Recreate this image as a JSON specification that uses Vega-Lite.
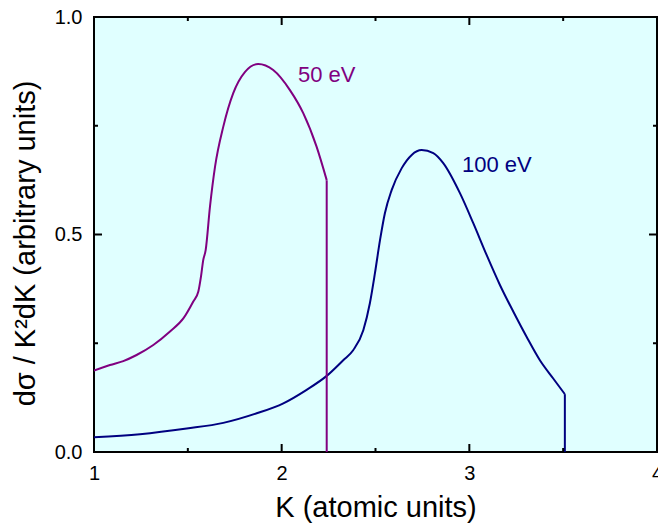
{
  "$schema": "https://vega.github.io/schema/vega-lite/v6.json",
  "width": 563,
  "height": 435,
  "autosize": {"type": "none"},
  "padding": {"left": 94, "top": 17, "right": 1, "bottom": 75},
  "config": {
    "font": "Liberation Sans",
    "view": {"fill": "#e0ffff", "stroke": "#000000", "strokeWidth": 2},
    "rule": {"color": "#000000", "strokeWidth": 2, "opacity": 1},
    "axis": {
      "domain": false,
      "ticks": false,
      "labelColor": "#000000",
      "titleColor": "#000000",
      "labelFont": "Liberation Sans",
      "titleFont": "Liberation Sans",
      "labelFontSize": 20,
      "titleFontSize": 29,
      "titleFontWeight": "normal",
      "grid": false,
      "labelFlush": false,
      "labelOverlap": false,
      "labelBound": false
    }
  },
  "datasets": {
    "curves": [
      {"K": 1.0, "v": 0.187, "E": "50 eV"},
      {"K": 1.085, "v": 0.2, "E": "50 eV"},
      {"K": 1.156, "v": 0.209, "E": "50 eV"},
      {"K": 1.227, "v": 0.223, "E": "50 eV"},
      {"K": 1.316, "v": 0.246, "E": "50 eV"},
      {"K": 1.405, "v": 0.277, "E": "50 eV"},
      {"K": 1.476, "v": 0.307, "E": "50 eV"},
      {"K": 1.529, "v": 0.346, "E": "50 eV"},
      {"K": 1.556, "v": 0.369, "E": "50 eV"},
      {"K": 1.57, "v": 0.403, "E": "50 eV"},
      {"K": 1.582, "v": 0.441, "E": "50 eV"},
      {"K": 1.595, "v": 0.464, "E": "50 eV"},
      {"K": 1.618, "v": 0.564, "E": "50 eV"},
      {"K": 1.645, "v": 0.656, "E": "50 eV"},
      {"K": 1.689, "v": 0.748, "E": "50 eV"},
      {"K": 1.742, "v": 0.825, "E": "50 eV"},
      {"K": 1.805, "v": 0.874, "E": "50 eV"},
      {"K": 1.875, "v": 0.892, "E": "50 eV"},
      {"K": 1.955, "v": 0.878, "E": "50 eV"},
      {"K": 2.044, "v": 0.832, "E": "50 eV"},
      {"K": 2.115, "v": 0.779, "E": "50 eV"},
      {"K": 2.186, "v": 0.702, "E": "50 eV"},
      {"K": 2.24, "v": 0.625, "E": "50 eV"},
      {"K": 1.0, "v": 0.034, "E": "100 eV"},
      {"K": 1.245, "v": 0.041, "E": "100 eV"},
      {"K": 1.494, "v": 0.054, "E": "100 eV"},
      {"K": 1.689, "v": 0.067, "E": "100 eV"},
      {"K": 1.867, "v": 0.089, "E": "100 eV"},
      {"K": 2.009, "v": 0.112, "E": "100 eV"},
      {"K": 2.133, "v": 0.143, "E": "100 eV"},
      {"K": 2.24, "v": 0.175, "E": "100 eV"},
      {"K": 2.328, "v": 0.211, "E": "100 eV"},
      {"K": 2.381, "v": 0.234, "E": "100 eV"},
      {"K": 2.435, "v": 0.28, "E": "100 eV"},
      {"K": 2.47, "v": 0.342, "E": "100 eV"},
      {"K": 2.497, "v": 0.411, "E": "100 eV"},
      {"K": 2.524, "v": 0.487, "E": "100 eV"},
      {"K": 2.55, "v": 0.549, "E": "100 eV"},
      {"K": 2.586, "v": 0.602, "E": "100 eV"},
      {"K": 2.639, "v": 0.652, "E": "100 eV"},
      {"K": 2.693, "v": 0.683, "E": "100 eV"},
      {"K": 2.746, "v": 0.694, "E": "100 eV"},
      {"K": 2.808, "v": 0.687, "E": "100 eV"},
      {"K": 2.861, "v": 0.664, "E": "100 eV"},
      {"K": 2.95, "v": 0.595, "E": "100 eV"},
      {"K": 3.021, "v": 0.526, "E": "100 eV"},
      {"K": 3.092, "v": 0.453, "E": "100 eV"},
      {"K": 3.163, "v": 0.384, "E": "100 eV"},
      {"K": 3.234, "v": 0.323, "E": "100 eV"},
      {"K": 3.305, "v": 0.265, "E": "100 eV"},
      {"K": 3.376, "v": 0.211, "E": "100 eV"},
      {"K": 3.447, "v": 0.169, "E": "100 eV"},
      {"K": 3.509, "v": 0.133, "E": "100 eV"}
    ],
    "drops": [
      {"K": 2.24, "v": 0.625, "E": "50 eV"},
      {"K": 2.24, "v": 0.0, "E": "50 eV"},
      {"K": 3.509, "v": 0.133, "E": "100 eV"},
      {"K": 3.509, "v": 0.0, "E": "100 eV"}
    ],
    "labels": [
      {"K": 2.087, "v": 0.867, "E": "50 eV"},
      {"K": 2.961, "v": 0.66, "E": "100 eV"}
    ],
    "kMajor": [{"K": 2}, {"K": 3}],
    "kMinor": [{"K": 1.5}, {"K": 2.5}, {"K": 3.5}],
    "vMajor": [{"v": 0.5}],
    "vMinor": [{"v": 0.25}, {"v": 0.75}]
  },
  "layer": [
    {
      "data": {"name": "curves"},
      "mark": {"type": "line", "strokeWidth": 2, "interpolate": "monotone", "clip": true},
      "encoding": {
        "x": {
          "field": "K",
          "type": "quantitative",
          "scale": {"domain": [1, 4], "nice": false, "zero": false},
          "axis": {
            "orient": "bottom",
            "title": "K (atomic units)",
            "values": [1, 2, 3, 4],
            "format": "d",
            "labelPadding": 11,
            "titlePadding": 10
          }
        },
        "y": {
          "field": "v",
          "type": "quantitative",
          "scale": {"domain": [0, 1], "nice": false, "zero": true},
          "axis": {
            "orient": "left",
            "title": "dσ / K²dK (arbitrary units)",
            "values": [0, 0.5, 1],
            "format": ".1f",
            "labelPadding": 12,
            "titlePadding": 14,
            "titleY": 226
          }
        },
        "color": {
          "field": "E",
          "type": "nominal",
          "scale": {"domain": ["50 eV", "100 eV"], "range": ["#800080", "#000080"]},
          "legend": null
        }
      }
    },
    {
      "data": {"name": "drops"},
      "mark": {"type": "line", "strokeWidth": 2, "clip": true},
      "encoding": {
        "x": {"field": "K", "type": "quantitative"},
        "y": {"field": "v", "type": "quantitative"},
        "color": {"field": "E", "type": "nominal", "legend": null},
        "order": {"value": null}
      }
    },
    {
      "data": {"name": "labels"},
      "mark": {"type": "text", "align": "left", "baseline": "middle", "fontSize": 22, "font": "Liberation Sans"},
      "encoding": {
        "x": {"field": "K", "type": "quantitative"},
        "y": {"field": "v", "type": "quantitative"},
        "text": {"field": "E"},
        "color": {"field": "E", "type": "nominal", "legend": null}
      }
    },
    {
      "data": {"name": "kMajor"},
      "mark": {"type": "rule"},
      "encoding": {"x": {"field": "K", "type": "quantitative"}, "y": {"datum": 0}, "y2": {"datum": 0.0184}}
    },
    {
      "data": {"name": "kMinor"},
      "mark": {"type": "rule"},
      "encoding": {"x": {"field": "K", "type": "quantitative"}, "y": {"datum": 0}, "y2": {"datum": 0.0092}}
    },
    {
      "data": {"name": "kMajor"},
      "mark": {"type": "rule"},
      "encoding": {"x": {"field": "K", "type": "quantitative"}, "y": {"datum": 1}, "y2": {"datum": 0.9816}}
    },
    {
      "data": {"name": "kMinor"},
      "mark": {"type": "rule"},
      "encoding": {"x": {"field": "K", "type": "quantitative"}, "y": {"datum": 1}, "y2": {"datum": 0.9908}}
    },
    {
      "data": {"name": "vMajor"},
      "mark": {"type": "rule"},
      "encoding": {"y": {"field": "v", "type": "quantitative"}, "x": {"datum": 1}, "x2": {"datum": 1.0426}}
    },
    {
      "data": {"name": "vMinor"},
      "mark": {"type": "rule"},
      "encoding": {"y": {"field": "v", "type": "quantitative"}, "x": {"datum": 1}, "x2": {"datum": 1.0213}}
    },
    {
      "data": {"name": "vMajor"},
      "mark": {"type": "rule"},
      "encoding": {"y": {"field": "v", "type": "quantitative"}, "x": {"datum": 4}, "x2": {"datum": 3.9574}}
    },
    {
      "data": {"name": "vMinor"},
      "mark": {"type": "rule"},
      "encoding": {"y": {"field": "v", "type": "quantitative"}, "x": {"datum": 4}, "x2": {"datum": 3.9787}}
    }
  ]
}
